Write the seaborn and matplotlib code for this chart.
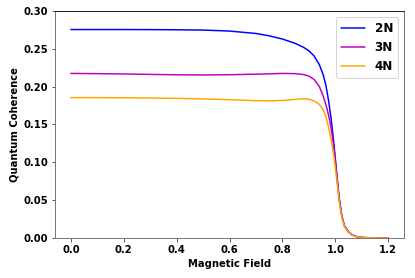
import matplotlib
matplotlib.use("Agg")
import matplotlib.pyplot as plt
import seaborn as sns
import pandas as pd

field = [0.0, 0.1, 0.2, 0.3, 0.4, 0.5, 0.6, 0.7, 0.75, 0.8, 0.85, 0.88, 0.9, 0.92,
         0.94, 0.955, 0.965, 0.975, 0.985, 0.995, 1.005, 1.015, 1.025, 1.035, 1.05,
         1.065, 1.08, 1.1, 1.13, 1.16, 1.2]
coh_2n = [0.2755, 0.2755, 0.2755, 0.2754, 0.2752, 0.2748, 0.2735, 0.2703, 0.2672,
          0.2630, 0.2570, 0.2520, 0.2475, 0.2405, 0.2290, 0.2150, 0.2010, 0.1810,
          0.1560, 0.1240, 0.0870, 0.0520, 0.0290, 0.0160, 0.0080, 0.0040, 0.0020,
          0.0008, 0.0002, 0.0001, 0.0]
coh_3n = [0.2175, 0.2172, 0.2168, 0.2162, 0.2157, 0.2155, 0.2158, 0.2165, 0.2170,
          0.2175, 0.2172, 0.2160, 0.2140, 0.2095, 0.2000, 0.1870, 0.1760, 0.1620,
          0.1440, 0.1190, 0.0850, 0.0510, 0.0285, 0.0155, 0.0078, 0.0039, 0.0019,
          0.0007, 0.0002, 0.0001, 0.0]
coh_4n = [0.1855, 0.1855, 0.1853, 0.1850, 0.1845, 0.1838, 0.1828, 0.1815, 0.1812,
          0.1818, 0.1832, 0.1840, 0.1836, 0.1812, 0.1765, 0.1690, 0.1600, 0.1460,
          0.1290, 0.1080, 0.0790, 0.0480, 0.0270, 0.0150, 0.0075, 0.0037, 0.0018,
          0.0007, 0.0002, 0.0001, 0.0]
labels = ["2N", "3N", "4N"]
colors = ["#0000ff", "#bf00bf", "#ffa500"]

rows = []
for lab, ys in zip(labels, [coh_2n, coh_3n, coh_4n]):
    for x, y in zip(field, ys):
        rows.append({"Magnetic Field": x, "Quantum Coherence": y, "N": lab})
df = pd.DataFrame(rows)

sns.set_style("white")
plt.rcParams["font.family"] = ["DejaVu Sans"]
for key in ["text.color", "axes.labelcolor", "xtick.color", "ytick.color"]:
    plt.rcParams[key] = "black"

DPI = 72
fig = plt.figure(figsize=(415 / DPI, 278 / DPI), dpi=DPI)
ax = fig.add_axes([55 / 415, 1 - 238 / 278, 349 / 415, 227 / 278])
sns.lineplot(data=df, x="Magnetic Field", y="Quantum Coherence", hue="N",
             palette=colors, linewidth=1.5, ax=ax, legend=True)

ax.set_ylim(0, 0.3)
ax.set_xlim(-0.06, 1.26)
ax.set_xticks([0.0, 0.2, 0.4, 0.6, 0.8, 1.0, 1.2])
ax.set_yticks([0.0, 0.05, 0.10, 0.15, 0.20, 0.25, 0.30])
ax.set_xticklabels([f"{v:.1f}" for v in ax.get_xticks()], fontweight="bold", fontsize=10)
ax.set_yticklabels([f"{v:.2f}" for v in ax.get_yticks()], fontweight="bold", fontsize=10)
ax.set_xlabel("Magnetic Field", fontweight="bold", fontsize=10)
ax.set_ylabel("Quantum Coherence", fontweight="bold", fontsize=10)
ax.tick_params(axis="both", direction="out", length=3.5, width=0.8, color="#333333",
               pad=3.5, bottom=True, left=True)
for side in ["left", "bottom", "right"]:
    ax.spines[side].set_color("#777777")
    ax.spines[side].set_linewidth(1.0)
ax.spines["top"].set_color("#222222")
ax.spines["top"].set_linewidth(1.0)

handles, _ = ax.get_legend_handles_labels()
leg = ax.legend(handles, labels, loc="upper right", prop={"weight": "bold", "size": 12},
                frameon=True)
leg.get_frame().set_edgecolor("#cccccc")

fig.savefig("out.png", dpi=DPI)
